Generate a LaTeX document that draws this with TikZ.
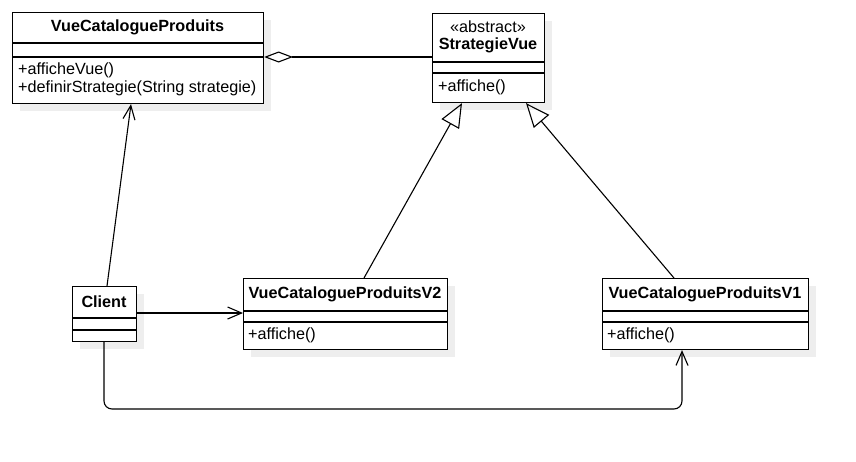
\documentclass[tikz,border=0pt]{standalone}
\usepackage{fontspec}
\setmainfont{Liberation Sans}
\usetikzlibrary{arrows.meta}
\definecolor{shadowgray}{HTML}{EEEEEE}
\tikzset{
  umlbox/.style={draw=black, line width=1.1pt, fill=white, rectangle, inner sep=0pt, anchor=north west},
  umlshadow/.style={fill=shadowgray, draw=none},
  divider/.style={draw=black, line width=1.1pt},
  titletext/.style={font=\fontsize{16.2}{18}\selectfont\bfseries, inner sep=0pt},
  stereotext/.style={font=\fontsize{16.2}{18}\selectfont, inner sep=0pt},
  membertext/.style={font=\fontsize{16.2}{18}\selectfont, inner sep=0pt, anchor=west, align=left},
  conn/.style={line width=1.1pt, draw=black},
  assoc/.style={conn, -{Straight Barb[length=14pt,width=12pt,line width=1.1pt]}},
  inherit/.style={conn, -{Triangle[open,length=24pt,width=20pt,line width=1.1pt]}},
  aggreg/.style={conn, {Diamond[open,length=29pt,width=11pt,line width=1.1pt]}-}
}
\newcommand{\umlclass}[5]{% name, x, y, w, h
  \fill[umlshadow] (#2+8,#3+8) rectangle (#2+#4+8,#3+#5+8);
  \node[umlbox, minimum width=#4pt, minimum height=#5pt] (#1) at (#2,#3) {};
}
\begin{document}
\begin{tikzpicture}[x=1pt,y=-1pt]
\useasboundingbox (0,0) rectangle (856,461);

% VueCatalogueProduits
\umlclass{vcp}{12}{12}{251}{91}
\draw[divider] (12,43) -- (263,43);
\draw[divider] (12,57) -- (263,57);
\node[titletext] (vcpT) at (137.5,27.5) {VueCatalogueProduits};
\node[membertext] (vcpM1) at (18,70) {+afficheVue()};
\node[membertext] (vcpM2) at (18,88) {+definirStrategie(String strategie)};

% StrategieVue
\umlclass{sv}{432}{13}{112}{89}
\draw[divider] (432,62) -- (544,62);
\draw[divider] (432,73) -- (544,73);
\node[stereotext] (svS) at (488,27) {«abstract»};
\node[titletext] (svT) at (488,45) {StrategieVue};
\node[membertext] (svM1) at (438,87.5) {+affiche()};

% Client
\umlclass{cl}{72}{286}{64}{55}
\draw[divider] (72,318) -- (136,318);
\draw[divider] (72,330) -- (136,330);
\node[titletext] (clT) at (104,302) {Client};

% VueCatalogueProduitsV2
\umlclass{v2}{243}{278}{204}{71}
\draw[divider] (243,311) -- (447,311);
\draw[divider] (243,322) -- (447,322);
\node[titletext] (v2T) at (345,294.5) {VueCatalogueProduitsV2};
\node[membertext] (v2M1) at (248,335.5) {+affiche()};

% VueCatalogueProduitsV1
\umlclass{v1}{602}{278}{206}{71}
\draw[divider] (602,311) -- (808,311);
\draw[divider] (602,322) -- (808,322);
\node[titletext] (v1T) at (705,294.5) {VueCatalogueProduitsV1};
\node[membertext] (v1M1) at (607,335.5) {+affiche()};

% connectors
\draw[aggreg] (vcp.north east |- 0,57) -- (sv.west |- 0,57);
\draw[inherit] (v2.north west -| 364,0) -- (sv.south west -| 462,0);
\draw[inherit] (v1.north west -| 674,0) -- (sv.south west -| 526,0);
\draw[assoc] (cl.north west -| 107,0) -- (vcp.south west -| 131,0);
\draw[assoc] (cl.east |- 0,313) -- (v2.west |- 0,313);
\draw[assoc, rounded corners=8pt] (cl.south west -| 104,0) -- (104,409) -- (682,409) -- (v1.south west -| 682,0);
\end{tikzpicture}
\end{document}
